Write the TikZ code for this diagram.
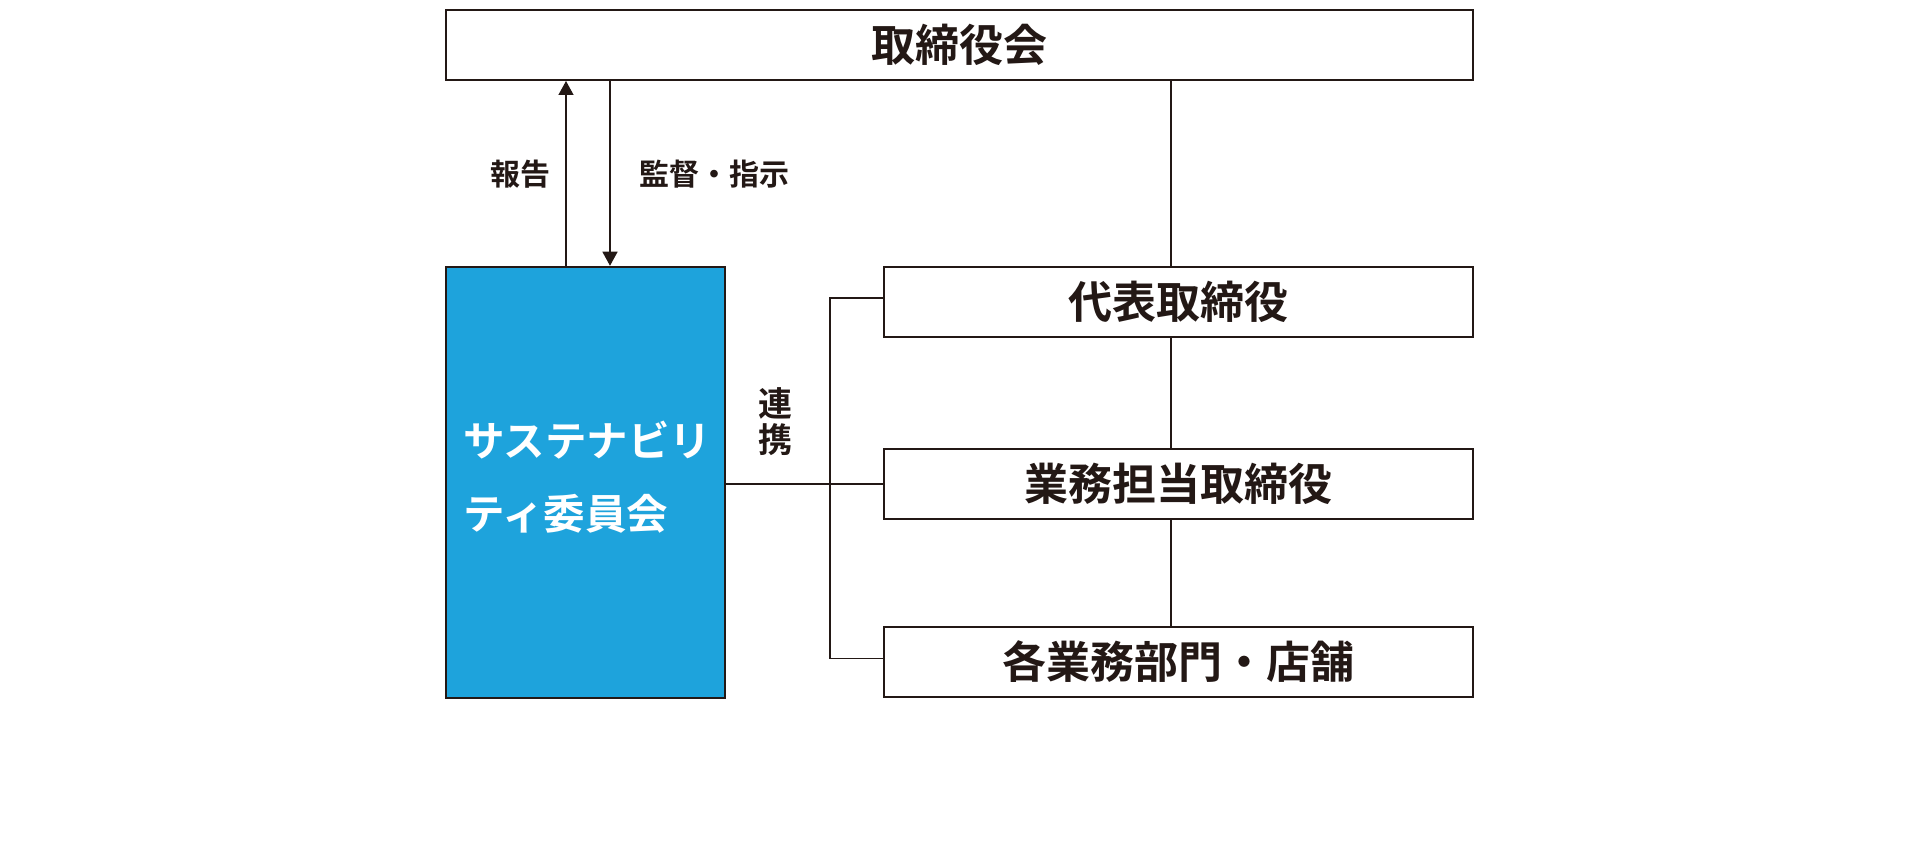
\documentclass[tikz,border=0pt]{standalone}
\usepackage{fontspec}
\newfontfamily\cjk{Noto Sans CJK JP}[BoldFont={Noto Sans CJK JP Bold}]
\usetikzlibrary{arrows.meta}
\definecolor{ink}{HTML}{231815}
\definecolor{blueboard}{HTML}{1EA3DC}
\begin{document}
\begin{tikzpicture}[x=1pt,y=-1pt,
  box/.style={draw=ink,line width=2pt,fill=white,inner sep=0pt,minimum width=589pt,minimum height=70pt,text=ink,font=\cjk\bfseries\fontsize{44}{48}\selectfont},
  link/.style={draw=ink,line width=1.3pt},
  arr/.style={link,-{Triangle[length=14pt,width=15pt]}},
  lbl/.style={text=ink,inner sep=0pt,font=\cjk\bfseries\fontsize{30}{34}\selectfont}]
\useasboundingbox (0,0) rectangle (1920,842);
\fill[white] (0,0) rectangle (1920,842);
\node[box,minimum width=1027pt] (board) at (959.5,45) {取締役会};
\node[draw=ink,line width=2.5pt,fill=blueboard,minimum width=279pt,minimum height=431pt,inner sep=0pt] (sus) at (585.5,482.5) {};
\node[anchor=west,text=white,inner sep=0pt,align=left,font=\cjk\bfseries\fontsize{41.5}{73}\selectfont] (sustxt) at (463,477) {サステナビリ\\ティ委員会};
\node[box] (daihyo) at (1178.5,302) {代表取締役};
\node[box] (gyomu) at (1178.5,484) {業務担当取締役};
\node[box] (kaku) at (1178.5,661.5) {各業務部門・店舗};
\coordinate (vx) at (1171,0);
\coordinate (bx) at (830,0);
\coordinate (upx) at (566,0);
\coordinate (dnx) at (610,0);
\draw[link] (board.south -| vx) -- (daihyo.north -| vx);
\draw[link] (daihyo.south -| vx) -- (gyomu.north -| vx);
\draw[link] (gyomu.south -| vx) -- (kaku.north -| vx);
\draw[link] ([yshift=4pt]daihyo.west) -- ([yshift=4pt]daihyo.west -| bx) -- ([yshift=3pt]kaku.west -| bx) -- ([yshift=3pt]kaku.west);
\draw[link] (sus.east |- gyomu.west) -- (gyomu.west);
\draw[arr] (sus.north -| upx) -- (board.south -| upx);
\draw[arr] (board.south -| dnx) -- (sus.north -| dnx);
\node[lbl] (hokoku) at (520,174) {報告};
\node[lbl] (kantoku) at (714,174) {監督・指示};
\node[lbl,align=center,font=\cjk\bfseries\fontsize{34}{36}\selectfont] (renkei) at (775,422) {連\\携};
\end{tikzpicture}
\end{document}
